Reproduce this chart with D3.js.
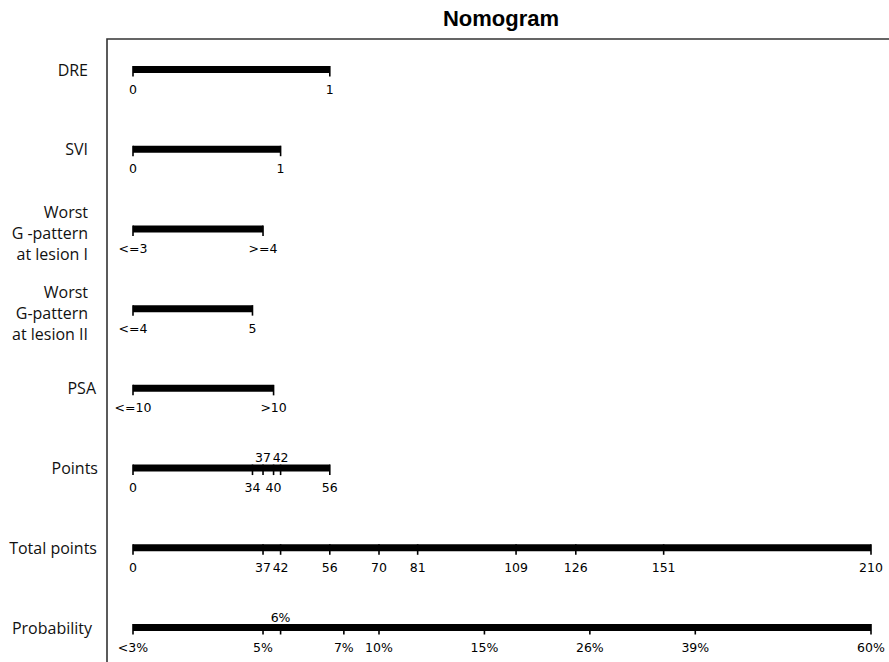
<!DOCTYPE html>
<html>
<head>
<meta charset="utf-8">
<script src="https://cdn.jsdelivr.net/npm/d3@7"></script>
<style>
  html, body { margin: 0; padding: 0; background: #fff; }
  svg { display: block; }
</style>
</head>
<body>
<svg id="chart" width="889" height="662"></svg>
<script>
// ---- data ----
const rowNames = ["DRE", "SVI", "Worst\nG -pattern\nat lesion I", "Worst\nG-pattern\nat lesion II", "PSA", "Points", "Total points", "Probability"];
const predictorLevels = [["0", "1"], ["0", "1"], ["<=3", ">=4"], ["<=4", "5"], ["<=10", ">10"]];
const predictorPoints = [[0, 56], [0, 42], [0, 37], [0, 34], [0, 40]];
const pointsTicks = [0, 34, 37, 40, 42, 56];
const pointsTicksAbove = [37, 42];
const totalTicks = [0, 37, 42, 56, 70, 81, 109, 126, 151, 210];
const probTickPoints = [0, 37, 42, 60, 70, 100, 130, 160, 210];
const probTickLabels = ["<3%", "5%", "6%", "7%", "10%", "15%", "26%", "39%", "60%"];
const probLabelsAbove = ["6%"];
const title = "Nomogram";

// ---- layout ----
const svg = d3.select("#chart");
const x = d3.scaleLinear().domain([0, 210]).range([133, 871]);
const y = d3.scalePoint().domain(rowNames).range([69.5, 627.5]);
const barW = 7;
const tickFont = "'DejaVu Sans', sans-serif";
const labelFont = "'Open Sans', 'Noto Sans', sans-serif";
const labelRight = {"PSA": 96, "Points": 98, "Total points": 97, "Probability": 92};

// frame
svg.append("path")
  .attr("d", "M107,700 L107,39 L900,39")
  .attr("fill", "none").attr("stroke", "#333").attr("stroke-width", 1.6);

// title
svg.append("text")
  .attr("x", 501).attr("y", 26)
  .attr("text-anchor", "middle")
  .attr("font-family", "'Liberation Sans', Arial, sans-serif")
  .attr("font-weight", "bold").attr("font-size", 22)
  .text(title);

// row labels
rowNames.forEach(name => {
  const lines = name.split("\n");
  const cy = y(name);
  const lh = 21;
  const t = svg.append("text")
    .attr("text-anchor", "end")
    .attr("font-family", labelFont).attr("font-size", 16)
    .attr("fill", "#111");
  lines.forEach((ln, i) => {
    t.append("tspan")
      .attr("x", labelRight[name] || 88)
      .attr("y", cy + 6 + (i - (lines.length - 1) / 2) * lh + (lines.length > 1 ? 4 : 0))
      .text(ln);
  });
});

function drawScale(name, tickVals, labels, aboveSet) {
  const cy = y(name);
  const g = svg.append("g");
  const x0 = x(d3.min(tickVals)), x1 = x(d3.max(tickVals));
  g.append("line")
    .attr("x1", x0).attr("x2", x1)
    .attr("y1", cy).attr("y2", cy)
    .attr("stroke", "#000").attr("stroke-width", barW);
  tickVals.forEach((v, i) => {
    g.append("line")
      .attr("x1", x(v)).attr("x2", x(v))
      .attr("y1", cy - barW / 2).attr("y2", cy + 7)
      .attr("stroke", "#000").attr("stroke-width", 1.6);
    const lab = labels[i];
    const above = aboveSet.includes(lab);
    g.append("text")
      .attr("x", x(v))
      .attr("y", above ? cy - 6 : cy + 24)
      .attr("text-anchor", "middle")
      .attr("font-family", tickFont).attr("font-size", 12.5)
      .attr("fill", "#000")
      .text(lab);
  });
}

predictorLevels.forEach((lv, i) => {
  drawScale(rowNames[i], predictorPoints[i], lv, []);
});
drawScale("Points", pointsTicks, pointsTicks.map(String), pointsTicksAbove.map(String));
drawScale("Total points", totalTicks, totalTicks.map(String), []);
drawScale("Probability", probTickPoints, probTickLabels, probLabelsAbove);
</script>
</body>
</html>
